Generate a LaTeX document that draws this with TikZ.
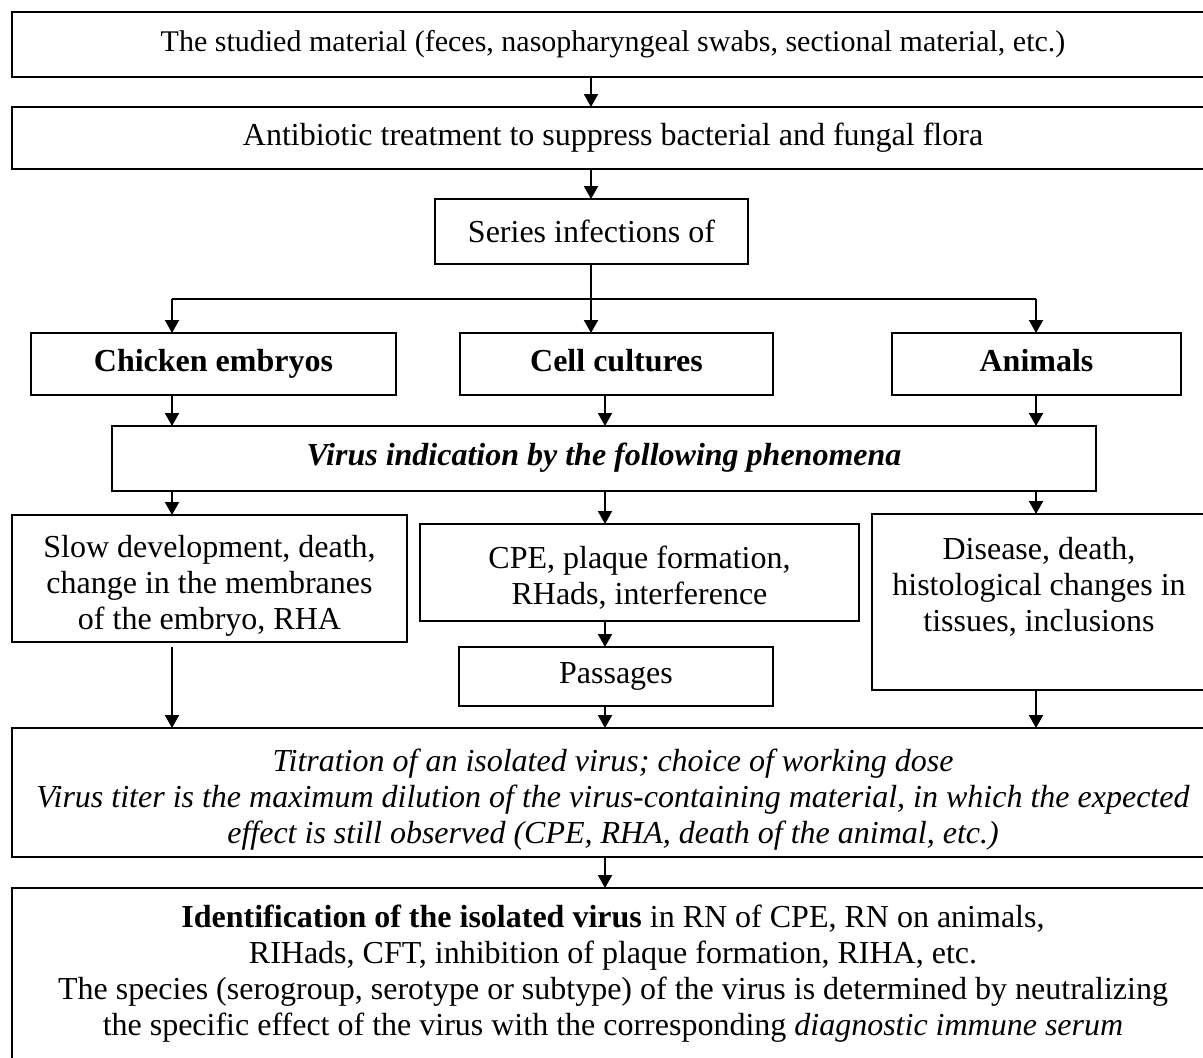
\documentclass[tikz,border=0pt]{standalone}
\usepackage{fontspec}
\setmainfont{Liberation Serif}
\usetikzlibrary{arrows.meta,calc}
\tikzset{
  box/.style={draw,line width=1pt,align=center,inner sep=0pt,outer sep=0pt,
              font=\fontsize{16pt}{18pt}\selectfont},
  arr/.style={-{Triangle[length=6.5pt,width=7pt]},line width=1pt},
  ln/.style={line width=1pt},
}

\begin{document}
\begin{tikzpicture}[x=0.5pt,y=-0.5pt]
\useasboundingbox (0,0) rectangle (1203,1057);
% columns of the connectors
\coordinate (xl) at (172,0);
\coordinate (xm) at (605,0);
\coordinate (xr) at (1036,0);
\coordinate (jn) at (591,299);
% top chain
\node[box,minimum width=601pt,minimum height=32.5pt,font=\fontsize{15pt}{18pt}\selectfont] (mat) at (613,44.5)
  {The studied material (feces, nasopharyngeal swabs, sectional material, etc.)};
\node[box,minimum width=601pt,minimum height=31pt] (anti) at (613,138)
  {Antibiotic treatment to suppress bacterial and fungal flora};
\node[box,minimum width=156.5pt,minimum height=32.5pt] (ser) at (591.5,231.5)
  {Series infections of};
% hosts
\node[box,minimum width=182.5pt,minimum height=31pt] (chick) at (213.5,364)
  {\strut\textbf{Chicken embryos}};
\node[box,minimum width=156.5pt,minimum height=31pt] (cell) at (616.5,364)
  {\strut\textbf{Cell cultures}};
\node[box,minimum width=144.5pt,minimum height=31pt] (anim) at (1036.5,364)
  {\strut\textbf{Animals}};
\node[box,minimum width=492pt,minimum height=32.5pt] (ind) at (604,458.5)
  {\strut\textbf{\textit{Virus indication by the following phenomena}}};
% phenomena
\node[box,minimum width=197.5pt,minimum height=63.5pt] (slow) at (209.5,578.5)
  {\rule{0pt}{18pt}Slow development, death,\\change in the membranes\\of the embryo, RHA};
\node[box,minimum width=219.5pt,minimum height=48.5pt] (cpe) at (639.5,572.5)
  {\rule{0pt}{16pt}CPE, plaque formation,\\RHads, interference};
\node[box,minimum width=167pt,minimum height=88pt] (dis) at (1039,602)
  {Disease, death,\\histological changes in\\tissues, inclusions\\\mbox{}};
\node[box,minimum width=157pt,minimum height=29.5pt] (pas) at (616,676.5)
  {\strut Passages};
% titration and identification
\node[box,minimum width=601pt,minimum height=64.5pt] (tit) at (613,792.5)
  {\rule{0pt}{18pt}\textit{Titration of an isolated virus; choice of working dose}\\
   \textit{Virus titer is the maximum dilution of the virus-containing material, in which the expected}\\
   \textit{effect is still observed (CPE, RHA, death of the animal, etc.)}};
\node[box,minimum width=601pt,minimum height=86pt] (ide) at (613,974)
  {\textbf{Identification of the isolated virus} in RN of CPE, RN on animals,\\
   RIHads, CFT, inhibition of plaque formation, RIHA, etc.\\
   The species (serogroup, serotype or subtype) of the virus is determined by neutralizing\\
   the specific effect of the virus with the corresponding \textit{diagnostic immune serum}};
% connectors
\draw[arr] (mat.south -| jn) -- (anti.north -| jn);
\draw[arr] (anti.south -| jn) -- (ser.north -| jn);
\draw[arr] (ser.south -| jn) -- (cell.north -| jn);
\draw[ln] (jn -| xl) -- (jn -| xr);
\draw[arr] (jn -| xl) -- (chick.north -| xl);
\draw[arr] (jn -| xr) -- (anim.north -| xr);
\draw[arr] (chick.south -| xl) -- (ind.north -| xl);
\draw[arr] (cell.south -| xm) -- (ind.north -| xm);
\draw[arr] (anim.south -| xr) -- (ind.north -| xr);
\draw[arr] (ind.south -| xl) -- (slow.north -| xl);
\draw[arr] (ind.south -| xm) -- (cpe.north -| xm);
\draw[arr] (ind.south -| xr) -- (dis.north -| xr);
\draw[arr] (cpe.south -| xm) -- (pas.north -| xm);
\draw[arr,shorten <=2.5pt] (slow.south -| xl) -- (tit.north -| xl);
\draw[arr] (pas.south -| xm) -- (tit.north -| xm);
\draw[arr] (dis.south -| xr) -- (tit.north -| xr);
\draw[arr] (tit.south -| xm) -- (ide.north -| xm);
\end{tikzpicture}
\end{document}
